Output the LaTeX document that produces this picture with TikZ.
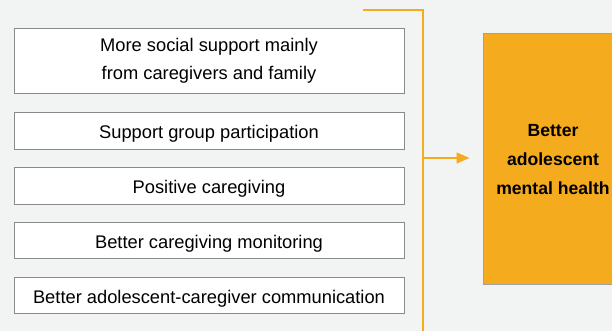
\documentclass[tikz,border=0pt]{standalone}
\usepackage{fontspec}
\setmainfont{Liberation Sans}
\usetikzlibrary{arrows.meta}
\definecolor{bgcol}{HTML}{F2F3F3}
\definecolor{orangecol}{HTML}{F5AB1E}
\definecolor{edgecol}{HTML}{8A8A8A}
\tikzset{
	factor/.style={draw=edgecol, line width=0.9pt, fill=white, minimum width=390pt, align=center, font=\fontsize{18.3}{28}\selectfont, inner sep=0pt},
	oneline/.style={factor, text height=19pt, text depth=2.4pt},
	outcome/.style={draw=edgecol!80, line width=1pt, fill=orangecol, minimum width=140pt, minimum height=251pt, align=center, font=\bfseries\fontsize{17.6}{29}\selectfont, inner sep=0pt},
	bracket/.style={draw=orangecol, line width=1.3pt},
}

\begin{document}
\begin{tikzpicture}[x=1pt,y=1pt]
	\fill[bgcol] (0,0) rectangle (612,331);
	\useasboundingbox (0,0) rectangle (612,331);
	% factors
	\node[factor, minimum height=65pt] (social) at (209,270.5) {More social support mainly\\from caregivers and family};
	\node[oneline, minimum height=37pt] (group) at (209,200.5) {Support group participation};
	\node[oneline, minimum height=37pt] (positive) at (209,145.5) {Positive caregiving};
	\node[oneline, minimum height=36pt] (monitor) at (209,91) {Better caregiving monitoring};
	\node[oneline, minimum height=36pt] (comm) at (209,36) {Better adolescent-caregiver communication};
	% outcome
	\node[outcome] (health) at (553,171.5) {Better\\adolescent\\mental health};
	% bracket
	\coordinate (btop) at (363,321);
	\coordinate (bcorner) at (423,321);
	\coordinate (bbottom) at (423,-2);
	\coordinate (bmid) at (423,173);
	\draw[bracket] (btop) -- (bcorner) -- (bbottom);
	\draw[bracket, -{Triangle[length=13pt,width=11pt]}, shorten >=13pt] (bmid) -- (bmid -| health.west);
\end{tikzpicture}
\end{document}
